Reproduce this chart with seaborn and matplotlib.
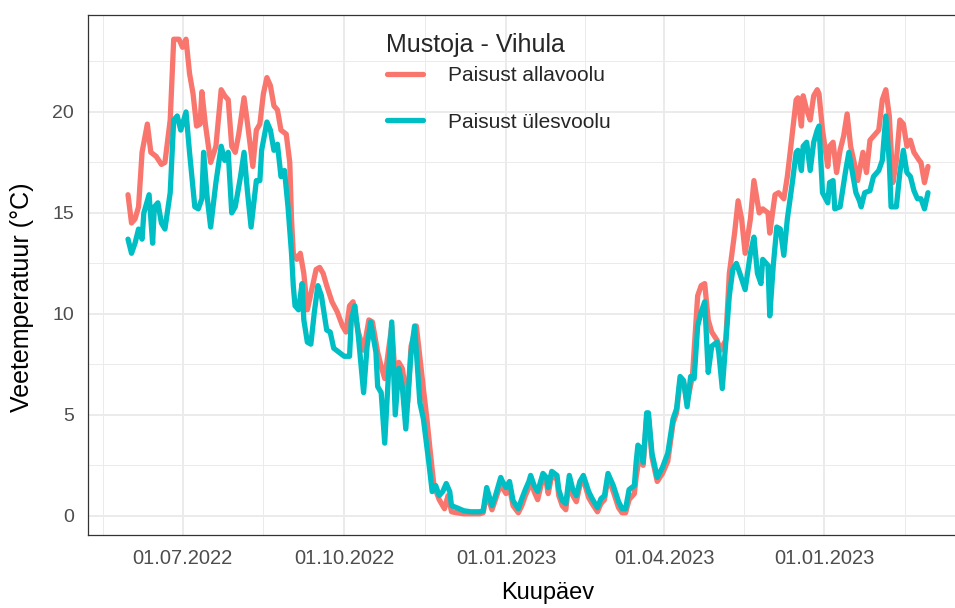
import pandas as pd
import numpy as np
import matplotlib
matplotlib.use("Agg")
import matplotlib.pyplot as plt
import matplotlib.ticker as mticker
import matplotlib.dates as mdates
import seaborn as sns

# days since first measurement (2022-05-31) and daily mean water temperature
start_date = "2022-05-31"

down_days = [0, 2, 4, 6, 8, 11, 13, 16, 19, 21, 24, 26, 29, 31, 33, 35, 37, 39, 41, 42,
             44, 47, 50, 53, 55, 57, 59, 61, 63, 66, 68, 71, 73, 75, 77, 79, 81, 83, 85, 87,
             90, 92, 93, 94, 96, 98, 100, 102, 104, 107, 109, 111, 113, 116, 119, 122, 124, 126, 128, 131,
             134, 137, 139, 142, 144, 146, 150, 152, 154, 156, 159, 161, 164, 168, 170, 172, 174, 177, 180, 182,
             184, 187, 191, 195, 200, 202, 204, 207, 209, 212, 213, 215, 217, 219, 222, 224, 226, 228, 229, 231,
             233, 236, 238, 239, 241, 244, 245, 247, 249, 251, 253, 255, 257, 259, 262, 264, 267, 269, 271, 273,
             276, 279, 281, 283, 285, 288, 289, 291, 293, 295, 296, 298, 301, 304, 307, 310, 312, 314, 316, 318,
             321, 324, 326, 328, 330, 332, 335, 337, 340, 342, 345, 347, 349, 351, 354, 356, 359, 361, 364, 365,
             368, 370, 373, 375, 377, 380, 381, 383, 384, 386, 388, 390, 392, 393, 395, 398, 399, 401, 403, 405,
             407, 409, 411, 413, 415, 418, 420, 422, 425, 427, 429, 431, 433, 435, 437, 439, 441, 443, 445, 447,
             450, 451, 453, 455]
down_temp = [15.9, 14.5, 14.7, 15.3, 18.0, 19.4, 18.0, 17.8, 17.4, 17.5, 19.6, 23.6, 23.6, 23.2, 23.6, 21.9, 20.9, 19.3, 19.4, 21.0,
             19.4, 17.5, 18.3, 21.1, 20.8, 20.6, 18.3, 18.0, 18.9, 20.7, 19.4, 17.3, 19.1, 19.4, 20.9, 21.7, 21.3, 20.3, 20.1, 19.1,
             18.9, 17.5, 14.7, 13.0, 12.7, 13.0, 12.0, 10.2, 11.0, 12.2, 12.3, 12.0, 11.4, 10.6, 10.1, 9.4, 9.1, 10.4, 10.6, 9.1,
             8.2, 9.7, 9.6, 8.1, 7.4, 6.8, 9.4, 6.8, 7.6, 7.3, 5.6, 8.4, 9.4, 6.3, 4.8, 3.1, 1.5, 0.8, 0.35, 1.0,
             0.2, 0.15, 0.1, 0.1, 0.1, 0.15, 1.1, 0.3, 0.8, 1.6, 1.4, 1.1, 1.4, 0.5, 0.15, 0.5, 1.0, 1.4, 1.8, 1.2,
             0.8, 1.9, 1.6, 1.1, 2.0, 1.8, 1.0, 0.5, 0.3, 1.8, 1.0, 0.7, 1.5, 1.8, 0.9, 0.6, 0.2, 0.6, 0.8, 1.9,
             1.2, 0.4, 0.15, 0.15, 0.8, 1.1, 1.9, 3.0, 2.5, 4.9, 4.9, 2.9, 1.7, 2.1, 2.7, 4.6, 5.1, 6.7, 6.6, 5.6,
             6.9, 10.9, 11.4, 11.5, 9.7, 9.1, 8.7, 8.2, 8.7, 12.0, 14.0, 15.6, 14.7, 13.0, 14.7, 16.6, 15.0, 15.2, 15.0, 14.0,
             15.9, 16.0, 15.7, 16.8, 18.3, 20.6, 20.7, 19.3, 20.8, 20.1, 19.6, 20.8, 21.1, 20.9, 19.1, 17.3, 18.3, 18.5, 17.0, 18.1,
             18.8, 19.9, 18.3, 17.5, 16.6, 18.0, 17.0, 18.6, 18.9, 19.1, 20.6, 21.1, 19.8, 16.5, 17.6, 19.6, 19.4, 18.3, 18.6, 18.0,
             17.6, 17.5, 16.5, 17.3]

up_days = [0, 2, 4, 6, 8, 9, 12, 14, 15, 17, 19, 21, 24, 26, 28, 30, 33, 35, 38, 40,
           42, 43, 45, 47, 50, 53, 55, 57, 59, 61, 64, 66, 68, 70, 73, 75, 76, 79, 81, 83,
           85, 87, 89, 91, 93, 94, 95, 97, 99, 100, 102, 104, 106, 108, 110, 113, 115, 117, 120, 123,
           126, 127, 129, 131, 134, 136, 138, 141, 142, 144, 146, 148, 150, 152, 154, 156, 158, 161, 163, 166,
           168, 171, 173, 175, 177, 179, 181, 183, 184, 187, 191, 195, 200, 202, 204, 207, 209, 212, 213, 215,
           217, 219, 222, 224, 226, 228, 229, 231, 233, 236, 238, 239, 241, 244, 245, 247, 249, 251, 253, 255,
           257, 259, 262, 264, 267, 269, 271, 273, 276, 279, 281, 283, 285, 288, 289, 290, 292, 293, 295, 296,
           298, 301, 304, 307, 310, 312, 314, 316, 318, 320, 322, 324, 326, 328, 330, 332, 335, 336, 338, 340,
           342, 344, 346, 348, 351, 353, 354, 356, 358, 360, 361, 364, 365, 367, 369, 371, 373, 375, 378, 380,
           381, 383, 384, 386, 388, 390, 392, 393, 395, 398, 399, 401, 402, 405, 408, 410, 412, 414, 416, 417,
           419, 422, 424, 427, 429, 431, 433, 434, 437, 439, 441, 443, 445, 447, 449, 451, 453, 455]
up_temp = [13.7, 13.0, 13.5, 14.2, 13.7, 15.0, 15.9, 13.5, 15.3, 15.5, 14.5, 14.2, 16.0, 19.6, 19.8, 19.1, 20.0, 18.0, 15.3, 15.2,
           15.7, 18.0, 15.8, 14.3, 16.5, 18.3, 17.6, 18.0, 15.0, 15.3, 16.8, 18.0, 16.0, 14.3, 16.6, 16.6, 18.1, 19.5, 19.1, 18.1,
           18.4, 16.8, 17.1, 15.3, 13.0, 11.4, 10.4, 10.2, 11.5, 9.7, 8.6, 8.5, 10.1, 11.4, 10.9, 9.2, 9.1, 8.3, 8.1, 7.9,
           7.9, 9.7, 10.4, 8.9, 6.1, 8.4, 9.6, 8.1, 6.4, 6.1, 3.6, 6.8, 9.6, 5.0, 7.3, 6.4, 4.3, 8.1, 9.4, 5.6,
           4.8, 2.7, 1.2, 1.5, 1.0, 1.2, 1.6, 1.2, 0.5, 0.4, 0.25, 0.2, 0.2, 0.25, 1.4, 0.5, 1.0, 1.9, 1.7, 1.4,
           1.7, 0.75, 0.35, 0.85, 1.3, 1.7, 2.0, 1.5, 1.2, 2.1, 1.9, 1.4, 2.2, 2.0, 1.3, 0.75, 0.6, 2.0, 1.3, 1.0,
           1.7, 2.0, 1.2, 0.85, 0.4, 0.85, 1.0, 2.1, 1.5, 0.7, 0.35, 0.35, 1.3, 1.5, 2.65, 3.5, 3.3, 2.65, 5.1, 5.1,
           3.1, 1.9, 2.4, 3.1, 4.8, 5.3, 6.9, 6.7, 5.4, 6.9, 6.8, 9.4, 10.1, 10.6, 7.1, 8.4, 8.6, 8.1, 6.3, 8.6,
           10.9, 12.2, 12.5, 12.0, 11.2, 12.4, 13.0, 13.8, 12.0, 11.5, 12.7, 12.4, 9.9, 12.4, 14.3, 14.2, 12.9, 14.7, 16.6, 18.0,
           18.1, 17.1, 18.3, 18.5, 17.1, 18.5, 19.1, 19.3, 16.0, 15.5, 16.5, 16.6, 15.2, 15.3, 17.0, 18.0, 17.0, 16.0, 15.6, 15.3,
           16.0, 16.1, 16.8, 17.1, 17.6, 19.8, 17.5, 15.3, 15.3, 17.0, 18.1, 17.0, 16.8, 16.1, 15.7, 15.7, 15.2, 16.0]

series_names = ["Paisust allavoolu", "Paisust ülesvoolu"]
series_colors = ["#F8766D", "#00BFC4"]

tick_dates = ["2022-07-01", "2022-10-01", "2023-01-01", "2023-04-01", "2023-07-01"]
tick_labels = ["01.07.2022", "01.10.2022", "01.01.2023", "01.04.2023", "01.01.2023"]

# --- build a long table for seaborn ---
t0 = pd.Timestamp(start_date)
df_down = pd.DataFrame({"Kuupäev": t0 + pd.to_timedelta(down_days, unit="D"),
                        "temp": down_temp, "koht": series_names[0]})
df_up = pd.DataFrame({"Kuupäev": t0 + pd.to_timedelta(up_days, unit="D"),
                      "temp": up_temp, "koht": series_names[1]})
df = pd.concat([df_down, df_up], ignore_index=True)

sns.set_theme(style="white")
plt.rcParams["font.family"] = ["Liberation Sans", "DejaVu Sans"]

fig = plt.figure(figsize=(9.55, 6.08), dpi=100)
ax = fig.add_axes([88 / 955, (608 - 535) / 608, 880 / 955, 520 / 608])

sns.lineplot(data=df, x="Kuupäev", y="temp", hue="koht", hue_order=series_names,
             palette=series_colors, linewidth=3.8, ax=ax, estimator=None, sort=True)

# x range with ggplot-like 5% expansion
span = df["Kuupäev"].max() - df["Kuupäev"].min()
ax.set_xlim(df["Kuupäev"].min() - span * 0.05, df["Kuupäev"].max() + span * 0.05)
ax.set_ylim(-0.95, 24.8)

# axis ticks + grid (theme_bw look)
major = pd.to_datetime(["2022-04-01"] + tick_dates + ["2023-10-01"])
minor = major[:-1] + (major[1:] - major[:-1]) / 2
ax.xaxis.set_major_locator(mticker.FixedLocator(mdates.date2num(pd.to_datetime(tick_dates))))
ax.xaxis.set_major_formatter(mticker.FixedFormatter(tick_labels))
ax.xaxis.set_minor_locator(mticker.FixedLocator(mdates.date2num(minor)))
ax.yaxis.set_major_locator(mticker.MultipleLocator(5))
ax.yaxis.set_minor_locator(mticker.MultipleLocator(2.5))
ax.yaxis.set_major_formatter(mticker.FormatStrFormatter("%d"))

ax.grid(which="major", color="#EBEBEB", linewidth=1.4)
ax.grid(which="minor", color="#EBEBEB", linewidth=0.7)
ax.set_axisbelow(True)
for s in ax.spines.values():
    s.set_color("#333333")
    s.set_linewidth(0.9)
ax.tick_params(which="major", length=6, width=0.9, color="#333333",
               labelcolor="#4D4D4D", pad=4)
ax.tick_params(axis="x", labelsize=14.5)
ax.tick_params(axis="y", labelsize=14)
ax.tick_params(which="minor", length=0)

ax.set_xlabel("Kuupäev", fontsize=17, color="black")
ax.set_ylabel("Veetemperatuur (°C)", fontsize=18, color="black")
ax.xaxis.set_label_coords((548 - 88) / 880, -(582 - 535) / 520)
ax.yaxis.set_label_coords((34 - 88) / 880, (535 - 297) / 520)

leg = ax.legend(title="Mustoja - Vihula", loc="upper left", bbox_to_anchor=(0.325, 0.99),
                frameon=False, fontsize=15, title_fontsize=18, handlelength=1.75,
                labelspacing=1.3, handletextpad=1.2, borderaxespad=0.2)
leg._legend_box.align = "left"
leg._legend_box.sep = 7

plt.savefig("out.png", dpi=100)
